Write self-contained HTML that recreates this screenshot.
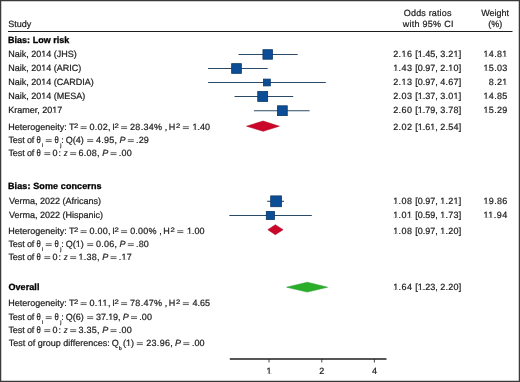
<!DOCTYPE html>
<html><head><meta charset="utf-8"><style>
html,body{margin:0;padding:0;background:#fff;}
body{width:520px;height:382px;overflow:hidden;}
svg{display:block;font-family:"Liberation Sans", sans-serif;will-change:transform;text-rendering:geometricPrecision;}
text{stroke:#1e1e1e;stroke-width:0.22px;}
</style></head><body>
<svg width="520" height="382" viewBox="0 0 520 382">
<rect x="0" y="0" width="520" height="382" fill="#fff"/>
<line x1="238.5" y1="54.45" x2="297.7" y2="54.45" stroke="#2b4a68" stroke-width="1.1"/>
<rect x="262.95" y="49.70" width="9.50" height="9.50" fill="#0b4e97" stroke="#0a3766" stroke-width="0.8"/>
<line x1="208" y1="68.5" x2="267.7" y2="68.5" stroke="#2b4a68" stroke-width="1.1"/>
<rect x="231.65" y="63.65" width="9.70" height="9.70" fill="#0b4e97" stroke="#0a3766" stroke-width="0.8"/>
<line x1="208.1" y1="82.5" x2="325.8" y2="82.5" stroke="#2b4a68" stroke-width="1.1"/>
<rect x="263.50" y="79.10" width="6.80" height="6.80" fill="#0b4e97" stroke="#0a3766" stroke-width="0.8"/>
<line x1="234.5" y1="96.45" x2="293.2" y2="96.45" stroke="#2b4a68" stroke-width="1.1"/>
<rect x="257.75" y="91.50" width="9.90" height="9.90" fill="#0b4e97" stroke="#0a3766" stroke-width="0.8"/>
<line x1="253.9" y1="110.7" x2="309.6" y2="110.7" stroke="#2b4a68" stroke-width="1.1"/>
<rect x="277.45" y="105.80" width="9.80" height="9.80" fill="#0b4e97" stroke="#0a3766" stroke-width="0.8"/>
<line x1="267.2" y1="201.3" x2="284" y2="201.3" stroke="#2b4a68" stroke-width="1.1"/>
<rect x="270.70" y="195.90" width="10.80" height="10.80" fill="#0b4e97" stroke="#0a3766" stroke-width="0.8"/>
<line x1="229.3" y1="215.5" x2="311.8" y2="215.5" stroke="#2b4a68" stroke-width="1.1"/>
<rect x="266.30" y="211.40" width="8.20" height="8.20" fill="#0b4e97" stroke="#0a3766" stroke-width="0.8"/>
<polygon points="246.5,126.2 263.1,121 279.4,126.2 263.1,131.3" fill="#cc0629" stroke="#a8061f" stroke-width="0.5"/>
<polygon points="267.8,229.7 275.3,224.7 283.1,229.7 275.3,234.8" fill="#cc0629" stroke="#a8061f" stroke-width="0.5"/>
<polygon points="286.6,287.2 307.3,282.2 327.6,287.2 307.3,292.1" fill="#2aae2a" stroke="#22992a" stroke-width="0.5"/>
<line x1="229.8" y1="359" x2="386.5" y2="359" stroke="#1e1e1e" stroke-width="1.5"/>
<line x1="269" y1="359" x2="269" y2="362.5" stroke="#1e1e1e" stroke-width="0.8"/>
<line x1="321.8" y1="359" x2="321.8" y2="362.5" stroke="#1e1e1e" stroke-width="0.8"/>
<line x1="374.4" y1="359" x2="374.4" y2="362.5" stroke="#1e1e1e" stroke-width="0.8"/>
<text x="8.19" y="27" font-size="9" fill="#1e1e1e">Study</text>
<text x="403.87" y="16" font-size="9" fill="#1e1e1e" textLength="47.55" lengthAdjust="spacing">Odds ratios</text>
<text x="402.71" y="27" font-size="9" fill="#1e1e1e" textLength="50.72" lengthAdjust="spacing">with 95% CI</text>
<text x="495.2" y="16" font-size="9" font-weight="normal" text-anchor="middle" fill="#1e1e1e">Weight</text>
<text x="495.2" y="27" font-size="9" font-weight="normal" text-anchor="middle" fill="#1e1e1e">(%)</text>
<line x1="8" y1="31.5" x2="512.5" y2="31.5" stroke="#1e1e1e" stroke-width="1.1"/>
<text x="8.00" y="43" font-size="9" fill="#000" font-weight="bold" style="stroke:#000;stroke-width:0.3px" textLength="61.39" lengthAdjust="spacing">Bias: Low risk</text>
<text x="8.26" y="57" font-size="9" fill="#1e1e1e">Naik, 2014 (JHS)</text>
<text x="393.15" y="57" font-size="9" fill="#1e1e1e" textLength="18.85" lengthAdjust="spacing">2.16</text>
<text x="415.36" y="57" font-size="9" fill="#1e1e1e" textLength="22.34" lengthAdjust="spacing">[1.45,</text>
<text x="440.16" y="57" font-size="9" fill="#1e1e1e" textLength="21.14" lengthAdjust="spacing">3.21]</text>
<text x="483.48" y="57" font-size="9" fill="#1e1e1e" textLength="23.87" lengthAdjust="spacing">14.81</text>
<text x="8.26" y="71" font-size="9" fill="#1e1e1e">Naik, 2014 (ARIC)</text>
<text x="393.15" y="71" font-size="9" fill="#1e1e1e" textLength="18.85" lengthAdjust="spacing">1.43</text>
<text x="415.36" y="71" font-size="9" fill="#1e1e1e" textLength="22.34" lengthAdjust="spacing">[0.97,</text>
<text x="440.16" y="71" font-size="9" fill="#1e1e1e" textLength="21.14" lengthAdjust="spacing">2.10]</text>
<text x="483.48" y="71" font-size="9" fill="#1e1e1e" textLength="23.87" lengthAdjust="spacing">15.03</text>
<text x="8.26" y="85" font-size="9" fill="#1e1e1e">Naik, 2014 (CARDIA)</text>
<text x="393.15" y="85" font-size="9" fill="#1e1e1e" textLength="18.85" lengthAdjust="spacing">2.13</text>
<text x="415.36" y="85" font-size="9" fill="#1e1e1e" textLength="22.34" lengthAdjust="spacing">[0.97,</text>
<text x="440.16" y="85" font-size="9" fill="#1e1e1e" textLength="21.14" lengthAdjust="spacing">4.67]</text>
<text x="488.78" y="85" font-size="9" fill="#1e1e1e" textLength="18.57" lengthAdjust="spacing">8.21</text>
<text x="8.26" y="99" font-size="9" fill="#1e1e1e">Naik, 2014 (MESA)</text>
<text x="393.15" y="99" font-size="9" fill="#1e1e1e" textLength="18.85" lengthAdjust="spacing">2.03</text>
<text x="415.36" y="99" font-size="9" fill="#1e1e1e" textLength="22.34" lengthAdjust="spacing">[1.37,</text>
<text x="440.16" y="99" font-size="9" fill="#1e1e1e" textLength="21.14" lengthAdjust="spacing">3.01]</text>
<text x="483.48" y="99" font-size="9" fill="#1e1e1e" textLength="23.87" lengthAdjust="spacing">14.85</text>
<text x="8.26" y="113" font-size="9" fill="#1e1e1e">Kramer, 2017</text>
<text x="393.15" y="113" font-size="9" fill="#1e1e1e" textLength="18.85" lengthAdjust="spacing">2.60</text>
<text x="415.36" y="113" font-size="9" fill="#1e1e1e" textLength="22.34" lengthAdjust="spacing">[1.79,</text>
<text x="440.16" y="113" font-size="9" fill="#1e1e1e" textLength="21.14" lengthAdjust="spacing">3.78]</text>
<text x="483.48" y="113" font-size="9" fill="#1e1e1e" textLength="23.87" lengthAdjust="spacing">15.29</text>
<text x="8.96" y="204" font-size="9" fill="#1e1e1e">Verma, 2022 (Africans)</text>
<text x="393.15" y="204" font-size="9" fill="#1e1e1e" textLength="18.85" lengthAdjust="spacing">1.08</text>
<text x="415.36" y="204" font-size="9" fill="#1e1e1e" textLength="22.34" lengthAdjust="spacing">[0.97,</text>
<text x="440.16" y="204" font-size="9" fill="#1e1e1e" textLength="21.14" lengthAdjust="spacing">1.21]</text>
<text x="483.48" y="204" font-size="9" fill="#1e1e1e" textLength="23.87" lengthAdjust="spacing">19.86</text>
<text x="8.96" y="218" font-size="9" fill="#1e1e1e">Verma, 2022 (Hispanic)</text>
<text x="393.15" y="218" font-size="9" fill="#1e1e1e" textLength="18.85" lengthAdjust="spacing">1.01</text>
<text x="415.36" y="218" font-size="9" fill="#1e1e1e" textLength="22.34" lengthAdjust="spacing">[0.59,</text>
<text x="440.16" y="218" font-size="9" fill="#1e1e1e" textLength="21.14" lengthAdjust="spacing">1.73]</text>
<text x="483.48" y="218" font-size="9" fill="#1e1e1e" textLength="23.87" lengthAdjust="spacing">11.94</text>
<text x="8.26" y="130" font-size="9" fill="#1e1e1e">Heterogeneity:</text>
<text x="69.00" y="130" font-size="9" fill="#1e1e1e">T</text>
<text transform="translate(74.11,128.10) scale(1.2,1)" x="0" y="0" font-size="6.5" fill="#1e1e1e">2</text>
<line x1="80.60" y1="126.75" x2="86.60" y2="126.75" stroke="#1e1e1e" stroke-width="0.7"/>
<line x1="80.60" y1="128.55" x2="86.60" y2="128.55" stroke="#1e1e1e" stroke-width="0.7"/>
<text x="89.40" y="130" font-size="9" fill="#1e1e1e" textLength="21.02" lengthAdjust="spacing">0.02,</text>
<text x="112.17" y="130" font-size="9" fill="#1e1e1e">I</text>
<text transform="translate(114.61,128.10) scale(1.2,1)" x="0" y="0" font-size="6.5" fill="#1e1e1e">2</text>
<line x1="121.10" y1="126.75" x2="127.10" y2="126.75" stroke="#1e1e1e" stroke-width="0.7"/>
<line x1="121.10" y1="128.55" x2="127.10" y2="128.55" stroke="#1e1e1e" stroke-width="0.7"/>
<text x="130.05" y="130" font-size="9" fill="#1e1e1e" textLength="31.97" lengthAdjust="spacing">28.34%</text>
<text x="164.69" y="130" font-size="9" fill="#1e1e1e">,</text>
<text x="168.86" y="130" font-size="9" fill="#1e1e1e">H</text>
<text transform="translate(175.91,128.10) scale(1.2,1)" x="0" y="0" font-size="6.5" fill="#1e1e1e">2</text>
<line x1="182.85" y1="126.75" x2="188.85" y2="126.75" stroke="#1e1e1e" stroke-width="0.7"/>
<line x1="182.85" y1="128.55" x2="188.85" y2="128.55" stroke="#1e1e1e" stroke-width="0.7"/>
<text x="192.60" y="130" font-size="9" fill="#1e1e1e">1.40</text>
<text x="393.15" y="130" font-size="9" fill="#1e1e1e" textLength="18.85" lengthAdjust="spacing">2.02</text>
<text x="415.36" y="130" font-size="9" fill="#1e1e1e" textLength="22.34" lengthAdjust="spacing">[1.61,</text>
<text x="440.16" y="130" font-size="9" fill="#1e1e1e" textLength="21.14" lengthAdjust="spacing">2.54]</text>
<text x="8.45" y="143" font-size="9" fill="#1e1e1e" textLength="25.94" lengthAdjust="spacing">Test of</text>
<text transform="translate(36.50,143) scale(0.86,1.045)" x="0" y="0" font-size="9" fill="#1e1e1e">θ</text>
<text x="42.05" y="146.7" font-size="5.3" fill="#1e1e1e">i</text>
<line x1="45.70" y1="139.75" x2="51.70" y2="139.75" stroke="#1e1e1e" stroke-width="0.7"/>
<line x1="45.70" y1="141.55" x2="51.70" y2="141.55" stroke="#1e1e1e" stroke-width="0.7"/>
<text transform="translate(54.40,143) scale(0.86,1.045)" x="0" y="0" font-size="9" fill="#1e1e1e">θ</text>
<text x="60.13" y="146.7" font-size="5.3" fill="#1e1e1e">j</text>
<text x="61.28" y="143" font-size="9" fill="#1e1e1e">:</text>
<text x="65.87" y="143" font-size="9" fill="#1e1e1e">Q(4)</text>
<line x1="87.20" y1="139.75" x2="93.20" y2="139.75" stroke="#1e1e1e" stroke-width="0.7"/>
<line x1="87.20" y1="141.55" x2="93.20" y2="141.55" stroke="#1e1e1e" stroke-width="0.7"/>
<text x="96.09" y="143" font-size="9" fill="#1e1e1e" textLength="21.02" lengthAdjust="spacing">4.95,</text>
<text x="119.52" y="143" font-size="9" fill="#1e1e1e" font-style="italic">P</text>
<line x1="127.80" y1="139.75" x2="133.80" y2="139.75" stroke="#1e1e1e" stroke-width="0.7"/>
<line x1="127.80" y1="141.55" x2="133.80" y2="141.55" stroke="#1e1e1e" stroke-width="0.7"/>
<text x="135.98" y="143" font-size="9" fill="#1e1e1e" textLength="12.89" lengthAdjust="spacing">.29</text>
<text x="8.45" y="156" font-size="9" fill="#1e1e1e" textLength="25.94" lengthAdjust="spacing">Test of</text>
<text transform="translate(36.60,156) scale(0.86,1.045)" x="0" y="0" font-size="9" fill="#1e1e1e">θ</text>
<line x1="44.30" y1="152.75" x2="50.30" y2="152.75" stroke="#1e1e1e" stroke-width="0.7"/>
<line x1="44.30" y1="154.55" x2="50.30" y2="154.55" stroke="#1e1e1e" stroke-width="0.7"/>
<text x="52.40" y="156" font-size="9" fill="#1e1e1e">0</text>
<text x="58.48" y="156" font-size="9" fill="#1e1e1e">:</text>
<text transform="translate(63.75,156) skewX(-8) scale(0.85,1)" x="-0.36" y="0" font-size="9" fill="#1e1e1e">z</text>
<line x1="70.20" y1="152.75" x2="76.20" y2="152.75" stroke="#1e1e1e" stroke-width="0.7"/>
<line x1="70.20" y1="154.55" x2="76.20" y2="154.55" stroke="#1e1e1e" stroke-width="0.7"/>
<text x="78.44" y="156" font-size="9" fill="#1e1e1e" textLength="21.02" lengthAdjust="spacing">6.08,</text>
<text x="102.22" y="156" font-size="9" fill="#1e1e1e" font-style="italic">P</text>
<line x1="110.50" y1="152.75" x2="116.50" y2="152.75" stroke="#1e1e1e" stroke-width="0.7"/>
<line x1="110.50" y1="154.55" x2="116.50" y2="154.55" stroke="#1e1e1e" stroke-width="0.7"/>
<text x="118.78" y="156" font-size="9" fill="#1e1e1e" textLength="12.89" lengthAdjust="spacing">.00</text>
<text x="8.00" y="189" font-size="9" fill="#000" font-weight="bold" style="stroke:#000;stroke-width:0.3px" textLength="93.57" lengthAdjust="spacing">Bias: Some concerns</text>
<text x="8.26" y="234" font-size="9" fill="#1e1e1e">Heterogeneity:</text>
<text x="69.00" y="234" font-size="9" fill="#1e1e1e">T</text>
<text transform="translate(74.11,232.10) scale(1.2,1)" x="0" y="0" font-size="6.5" fill="#1e1e1e">2</text>
<line x1="80.60" y1="230.75" x2="86.60" y2="230.75" stroke="#1e1e1e" stroke-width="0.7"/>
<line x1="80.60" y1="232.55" x2="86.60" y2="232.55" stroke="#1e1e1e" stroke-width="0.7"/>
<text x="89.40" y="234" font-size="9" fill="#1e1e1e" textLength="21.02" lengthAdjust="spacing">0.00,</text>
<text x="112.17" y="234" font-size="9" fill="#1e1e1e">I</text>
<text transform="translate(114.61,232.10) scale(1.2,1)" x="0" y="0" font-size="6.5" fill="#1e1e1e">2</text>
<line x1="121.10" y1="230.75" x2="127.10" y2="230.75" stroke="#1e1e1e" stroke-width="0.7"/>
<line x1="121.10" y1="232.55" x2="127.10" y2="232.55" stroke="#1e1e1e" stroke-width="0.7"/>
<text x="130.15" y="234" font-size="9" fill="#1e1e1e" textLength="26.37" lengthAdjust="spacing">0.00%</text>
<text x="159.19" y="234" font-size="9" fill="#1e1e1e">,</text>
<text x="163.36" y="234" font-size="9" fill="#1e1e1e">H</text>
<text transform="translate(170.41,232.10) scale(1.2,1)" x="0" y="0" font-size="6.5" fill="#1e1e1e">2</text>
<line x1="177.35" y1="230.75" x2="183.35" y2="230.75" stroke="#1e1e1e" stroke-width="0.7"/>
<line x1="177.35" y1="232.55" x2="183.35" y2="232.55" stroke="#1e1e1e" stroke-width="0.7"/>
<text x="187.10" y="234" font-size="9" fill="#1e1e1e">1.00</text>
<text x="393.15" y="234" font-size="9" fill="#1e1e1e" textLength="18.85" lengthAdjust="spacing">1.08</text>
<text x="415.36" y="234" font-size="9" fill="#1e1e1e" textLength="22.34" lengthAdjust="spacing">[0.97,</text>
<text x="440.16" y="234" font-size="9" fill="#1e1e1e" textLength="21.14" lengthAdjust="spacing">1.20]</text>
<text x="8.45" y="247" font-size="9" fill="#1e1e1e" textLength="25.94" lengthAdjust="spacing">Test of</text>
<text transform="translate(36.50,247) scale(0.86,1.045)" x="0" y="0" font-size="9" fill="#1e1e1e">θ</text>
<text x="42.05" y="250.7" font-size="5.3" fill="#1e1e1e">i</text>
<line x1="45.70" y1="243.75" x2="51.70" y2="243.75" stroke="#1e1e1e" stroke-width="0.7"/>
<line x1="45.70" y1="245.55" x2="51.70" y2="245.55" stroke="#1e1e1e" stroke-width="0.7"/>
<text transform="translate(54.40,247) scale(0.86,1.045)" x="0" y="0" font-size="9" fill="#1e1e1e">θ</text>
<text x="60.13" y="250.7" font-size="5.3" fill="#1e1e1e">j</text>
<text x="61.28" y="247" font-size="9" fill="#1e1e1e">:</text>
<text x="65.87" y="247" font-size="9" fill="#1e1e1e">Q(1)</text>
<line x1="87.20" y1="243.75" x2="93.20" y2="243.75" stroke="#1e1e1e" stroke-width="0.7"/>
<line x1="87.20" y1="245.55" x2="93.20" y2="245.55" stroke="#1e1e1e" stroke-width="0.7"/>
<text x="96.09" y="247" font-size="9" fill="#1e1e1e" textLength="21.02" lengthAdjust="spacing">0.06,</text>
<text x="119.52" y="247" font-size="9" fill="#1e1e1e" font-style="italic">P</text>
<line x1="127.80" y1="243.75" x2="133.80" y2="243.75" stroke="#1e1e1e" stroke-width="0.7"/>
<line x1="127.80" y1="245.55" x2="133.80" y2="245.55" stroke="#1e1e1e" stroke-width="0.7"/>
<text x="135.98" y="247" font-size="9" fill="#1e1e1e" textLength="12.89" lengthAdjust="spacing">.80</text>
<text x="8.45" y="260" font-size="9" fill="#1e1e1e" textLength="25.94" lengthAdjust="spacing">Test of</text>
<text transform="translate(36.60,260) scale(0.86,1.045)" x="0" y="0" font-size="9" fill="#1e1e1e">θ</text>
<line x1="44.30" y1="256.75" x2="50.30" y2="256.75" stroke="#1e1e1e" stroke-width="0.7"/>
<line x1="44.30" y1="258.55" x2="50.30" y2="258.55" stroke="#1e1e1e" stroke-width="0.7"/>
<text x="52.40" y="260" font-size="9" fill="#1e1e1e">0</text>
<text x="58.48" y="260" font-size="9" fill="#1e1e1e">:</text>
<text transform="translate(63.75,260) skewX(-8) scale(0.85,1)" x="-0.36" y="0" font-size="9" fill="#1e1e1e">z</text>
<line x1="70.20" y1="256.75" x2="76.20" y2="256.75" stroke="#1e1e1e" stroke-width="0.7"/>
<line x1="70.20" y1="258.55" x2="76.20" y2="258.55" stroke="#1e1e1e" stroke-width="0.7"/>
<text x="78.44" y="260" font-size="9" fill="#1e1e1e" textLength="21.02" lengthAdjust="spacing">1.38,</text>
<text x="102.22" y="260" font-size="9" fill="#1e1e1e" font-style="italic">P</text>
<line x1="110.50" y1="256.75" x2="116.50" y2="256.75" stroke="#1e1e1e" stroke-width="0.7"/>
<line x1="110.50" y1="258.55" x2="116.50" y2="258.55" stroke="#1e1e1e" stroke-width="0.7"/>
<text x="118.78" y="260" font-size="9" fill="#1e1e1e" textLength="12.89" lengthAdjust="spacing">.17</text>
<text x="8.43" y="290" font-size="9" fill="#000" font-weight="bold" style="stroke:#000;stroke-width:0.3px" textLength="31.01" lengthAdjust="spacing">Overall</text>
<text x="393.15" y="290" font-size="9" fill="#1e1e1e" textLength="18.85" lengthAdjust="spacing">1.64</text>
<text x="415.36" y="290" font-size="9" fill="#1e1e1e" textLength="22.34" lengthAdjust="spacing">[1.23,</text>
<text x="440.16" y="290" font-size="9" fill="#1e1e1e" textLength="21.14" lengthAdjust="spacing">2.20]</text>
<text x="8.26" y="306" font-size="9" fill="#1e1e1e">Heterogeneity:</text>
<text x="69.00" y="306" font-size="9" fill="#1e1e1e">T</text>
<text transform="translate(74.11,304.10) scale(1.2,1)" x="0" y="0" font-size="6.5" fill="#1e1e1e">2</text>
<line x1="80.60" y1="302.75" x2="86.60" y2="302.75" stroke="#1e1e1e" stroke-width="0.7"/>
<line x1="80.60" y1="304.55" x2="86.60" y2="304.55" stroke="#1e1e1e" stroke-width="0.7"/>
<text x="89.40" y="306" font-size="9" fill="#1e1e1e" textLength="21.02" lengthAdjust="spacing">0.11,</text>
<text x="112.17" y="306" font-size="9" fill="#1e1e1e">I</text>
<text transform="translate(114.61,304.10) scale(1.2,1)" x="0" y="0" font-size="6.5" fill="#1e1e1e">2</text>
<line x1="121.10" y1="302.75" x2="127.10" y2="302.75" stroke="#1e1e1e" stroke-width="0.7"/>
<line x1="121.10" y1="304.55" x2="127.10" y2="304.55" stroke="#1e1e1e" stroke-width="0.7"/>
<text x="130.04" y="306" font-size="9" fill="#1e1e1e" textLength="31.98" lengthAdjust="spacing">78.47%</text>
<text x="164.69" y="306" font-size="9" fill="#1e1e1e">,</text>
<text x="168.86" y="306" font-size="9" fill="#1e1e1e">H</text>
<text transform="translate(175.91,304.10) scale(1.2,1)" x="0" y="0" font-size="6.5" fill="#1e1e1e">2</text>
<line x1="182.85" y1="302.75" x2="188.85" y2="302.75" stroke="#1e1e1e" stroke-width="0.7"/>
<line x1="182.85" y1="304.55" x2="188.85" y2="304.55" stroke="#1e1e1e" stroke-width="0.7"/>
<text x="192.60" y="306" font-size="9" fill="#1e1e1e">4.65</text>
<text x="8.45" y="320" font-size="9" fill="#1e1e1e" textLength="25.94" lengthAdjust="spacing">Test of</text>
<text transform="translate(36.50,320) scale(0.86,1.045)" x="0" y="0" font-size="9" fill="#1e1e1e">θ</text>
<text x="42.05" y="323.7" font-size="5.3" fill="#1e1e1e">i</text>
<line x1="45.70" y1="316.75" x2="51.70" y2="316.75" stroke="#1e1e1e" stroke-width="0.7"/>
<line x1="45.70" y1="318.55" x2="51.70" y2="318.55" stroke="#1e1e1e" stroke-width="0.7"/>
<text transform="translate(54.40,320) scale(0.86,1.045)" x="0" y="0" font-size="9" fill="#1e1e1e">θ</text>
<text x="60.13" y="323.7" font-size="5.3" fill="#1e1e1e">j</text>
<text x="61.28" y="320" font-size="9" fill="#1e1e1e">:</text>
<text x="65.87" y="320" font-size="9" fill="#1e1e1e">Q(6)</text>
<line x1="87.20" y1="316.75" x2="93.20" y2="316.75" stroke="#1e1e1e" stroke-width="0.7"/>
<line x1="87.20" y1="318.55" x2="93.20" y2="318.55" stroke="#1e1e1e" stroke-width="0.7"/>
<text x="96.09" y="320" font-size="9" fill="#1e1e1e" textLength="24.40" lengthAdjust="spacing">37.19,</text>
<text x="122.72" y="320" font-size="9" fill="#1e1e1e" font-style="italic">P</text>
<line x1="131.00" y1="316.75" x2="137.00" y2="316.75" stroke="#1e1e1e" stroke-width="0.7"/>
<line x1="131.00" y1="318.55" x2="137.00" y2="318.55" stroke="#1e1e1e" stroke-width="0.7"/>
<text x="139.18" y="320" font-size="9" fill="#1e1e1e" textLength="12.89" lengthAdjust="spacing">.00</text>
<text x="8.45" y="333" font-size="9" fill="#1e1e1e" textLength="25.94" lengthAdjust="spacing">Test of</text>
<text transform="translate(36.60,333) scale(0.86,1.045)" x="0" y="0" font-size="9" fill="#1e1e1e">θ</text>
<line x1="44.30" y1="329.75" x2="50.30" y2="329.75" stroke="#1e1e1e" stroke-width="0.7"/>
<line x1="44.30" y1="331.55" x2="50.30" y2="331.55" stroke="#1e1e1e" stroke-width="0.7"/>
<text x="52.40" y="333" font-size="9" fill="#1e1e1e">0</text>
<text x="58.48" y="333" font-size="9" fill="#1e1e1e">:</text>
<text transform="translate(63.75,333) skewX(-8) scale(0.85,1)" x="-0.36" y="0" font-size="9" fill="#1e1e1e">z</text>
<line x1="70.20" y1="329.75" x2="76.20" y2="329.75" stroke="#1e1e1e" stroke-width="0.7"/>
<line x1="70.20" y1="331.55" x2="76.20" y2="331.55" stroke="#1e1e1e" stroke-width="0.7"/>
<text x="78.44" y="333" font-size="9" fill="#1e1e1e" textLength="21.02" lengthAdjust="spacing">3.35,</text>
<text x="102.22" y="333" font-size="9" fill="#1e1e1e" font-style="italic">P</text>
<line x1="110.50" y1="329.75" x2="116.50" y2="329.75" stroke="#1e1e1e" stroke-width="0.7"/>
<line x1="110.50" y1="331.55" x2="116.50" y2="331.55" stroke="#1e1e1e" stroke-width="0.7"/>
<text x="118.78" y="333" font-size="9" fill="#1e1e1e" textLength="12.89" lengthAdjust="spacing">.00</text>
<text x="8.80" y="346" font-size="9" fill="#1e1e1e">Test of group differences:</text>
<text x="111.67" y="346" font-size="9" fill="#1e1e1e">Q</text>
<text x="118.66" y="349.7" font-size="5.3" fill="#1e1e1e">b</text>
<text x="123.04" y="346" font-size="9" fill="#1e1e1e">(1)</text>
<line x1="136.80" y1="342.75" x2="142.80" y2="342.75" stroke="#1e1e1e" stroke-width="0.7"/>
<line x1="136.80" y1="344.55" x2="142.80" y2="344.55" stroke="#1e1e1e" stroke-width="0.7"/>
<text x="146.25" y="346" font-size="9" fill="#1e1e1e" textLength="26.56" lengthAdjust="spacing">23.96,</text>
<text x="175.02" y="346" font-size="9" fill="#1e1e1e" font-style="italic">P</text>
<line x1="183.30" y1="342.75" x2="189.30" y2="342.75" stroke="#1e1e1e" stroke-width="0.7"/>
<line x1="183.30" y1="344.55" x2="189.30" y2="344.55" stroke="#1e1e1e" stroke-width="0.7"/>
<text x="191.98" y="346" font-size="9" fill="#1e1e1e">.00</text>
<text x="269" y="374" font-size="9" font-weight="normal" text-anchor="middle" fill="#1e1e1e">1</text>
<text x="321.8" y="374" font-size="9" font-weight="normal" text-anchor="middle" fill="#1e1e1e">2</text>
<text x="374.4" y="374" font-size="9" font-weight="normal" text-anchor="middle" fill="#1e1e1e">4</text>
<rect x="41.76" y="56.19" width="1.76" height="1.01" fill="#fff"/>
<rect x="44.35" y="56.19" width="1.69" height="1.01" fill="#fff"/>
<rect x="402.03" y="56.19" width="1.76" height="1.01" fill="#fff"/>
<rect x="404.62" y="56.19" width="1.69" height="1.01" fill="#fff"/>
<rect x="418.31" y="56.19" width="1.76" height="1.01" fill="#fff"/>
<rect x="420.90" y="56.19" width="1.69" height="1.01" fill="#fff"/>
<rect x="453.99" y="56.19" width="1.76" height="1.01" fill="#fff"/>
<rect x="456.58" y="56.19" width="1.69" height="1.01" fill="#fff"/>
<rect x="483.97" y="56.19" width="1.76" height="1.01" fill="#fff"/>
<rect x="486.56" y="56.19" width="1.69" height="1.01" fill="#fff"/>
<rect x="502.82" y="56.19" width="1.76" height="1.01" fill="#fff"/>
<rect x="505.41" y="56.19" width="1.69" height="1.01" fill="#fff"/>
<rect x="41.76" y="70.19" width="1.76" height="1.01" fill="#fff"/>
<rect x="44.35" y="70.19" width="1.69" height="1.01" fill="#fff"/>
<rect x="393.64" y="70.19" width="1.76" height="1.01" fill="#fff"/>
<rect x="396.23" y="70.19" width="1.69" height="1.01" fill="#fff"/>
<rect x="448.71" y="70.19" width="1.76" height="1.01" fill="#fff"/>
<rect x="451.30" y="70.19" width="1.69" height="1.01" fill="#fff"/>
<rect x="483.97" y="70.19" width="1.76" height="1.01" fill="#fff"/>
<rect x="486.56" y="70.19" width="1.69" height="1.01" fill="#fff"/>
<rect x="41.76" y="84.19" width="1.76" height="1.01" fill="#fff"/>
<rect x="44.35" y="84.19" width="1.69" height="1.01" fill="#fff"/>
<rect x="402.03" y="84.19" width="1.76" height="1.01" fill="#fff"/>
<rect x="404.62" y="84.19" width="1.69" height="1.01" fill="#fff"/>
<rect x="502.82" y="84.19" width="1.76" height="1.01" fill="#fff"/>
<rect x="505.41" y="84.19" width="1.69" height="1.01" fill="#fff"/>
<rect x="41.76" y="98.19" width="1.76" height="1.01" fill="#fff"/>
<rect x="44.35" y="98.19" width="1.69" height="1.01" fill="#fff"/>
<rect x="418.31" y="98.19" width="1.76" height="1.01" fill="#fff"/>
<rect x="420.90" y="98.19" width="1.69" height="1.01" fill="#fff"/>
<rect x="453.99" y="98.19" width="1.76" height="1.01" fill="#fff"/>
<rect x="456.58" y="98.19" width="1.69" height="1.01" fill="#fff"/>
<rect x="483.97" y="98.19" width="1.76" height="1.01" fill="#fff"/>
<rect x="486.56" y="98.19" width="1.69" height="1.01" fill="#fff"/>
<rect x="52.76" y="112.19" width="1.76" height="1.01" fill="#fff"/>
<rect x="55.35" y="112.19" width="1.69" height="1.01" fill="#fff"/>
<rect x="418.31" y="112.19" width="1.76" height="1.01" fill="#fff"/>
<rect x="420.90" y="112.19" width="1.69" height="1.01" fill="#fff"/>
<rect x="483.97" y="112.19" width="1.76" height="1.01" fill="#fff"/>
<rect x="486.56" y="112.19" width="1.69" height="1.01" fill="#fff"/>
<rect x="393.64" y="203.19" width="1.76" height="1.01" fill="#fff"/>
<rect x="396.23" y="203.19" width="1.69" height="1.01" fill="#fff"/>
<rect x="440.65" y="203.19" width="1.76" height="1.01" fill="#fff"/>
<rect x="443.24" y="203.19" width="1.69" height="1.01" fill="#fff"/>
<rect x="453.99" y="203.19" width="1.76" height="1.01" fill="#fff"/>
<rect x="456.58" y="203.19" width="1.69" height="1.01" fill="#fff"/>
<rect x="483.97" y="203.19" width="1.76" height="1.01" fill="#fff"/>
<rect x="486.56" y="203.19" width="1.69" height="1.01" fill="#fff"/>
<rect x="393.64" y="217.19" width="1.76" height="1.01" fill="#fff"/>
<rect x="396.23" y="217.19" width="1.69" height="1.01" fill="#fff"/>
<rect x="407.47" y="217.19" width="1.76" height="1.01" fill="#fff"/>
<rect x="410.06" y="217.19" width="1.69" height="1.01" fill="#fff"/>
<rect x="440.65" y="217.19" width="1.76" height="1.01" fill="#fff"/>
<rect x="443.24" y="217.19" width="1.69" height="1.01" fill="#fff"/>
<rect x="483.97" y="217.19" width="1.76" height="1.01" fill="#fff"/>
<rect x="486.56" y="217.19" width="1.69" height="1.01" fill="#fff"/>
<rect x="488.80" y="217.19" width="1.76" height="1.01" fill="#fff"/>
<rect x="491.39" y="217.19" width="1.69" height="1.01" fill="#fff"/>
<rect x="193.09" y="129.19" width="1.76" height="1.01" fill="#fff"/>
<rect x="195.68" y="129.19" width="1.69" height="1.01" fill="#fff"/>
<rect x="418.31" y="129.19" width="1.76" height="1.01" fill="#fff"/>
<rect x="420.90" y="129.19" width="1.69" height="1.01" fill="#fff"/>
<rect x="430.71" y="129.19" width="1.76" height="1.01" fill="#fff"/>
<rect x="433.30" y="129.19" width="1.69" height="1.01" fill="#fff"/>
<rect x="187.59" y="233.19" width="1.76" height="1.01" fill="#fff"/>
<rect x="190.18" y="233.19" width="1.69" height="1.01" fill="#fff"/>
<rect x="393.64" y="233.19" width="1.76" height="1.01" fill="#fff"/>
<rect x="396.23" y="233.19" width="1.69" height="1.01" fill="#fff"/>
<rect x="440.65" y="233.19" width="1.76" height="1.01" fill="#fff"/>
<rect x="443.24" y="233.19" width="1.69" height="1.01" fill="#fff"/>
<rect x="76.34" y="246.19" width="1.76" height="1.01" fill="#fff"/>
<rect x="78.93" y="246.19" width="1.69" height="1.01" fill="#fff"/>
<rect x="78.93" y="259.19" width="1.76" height="1.01" fill="#fff"/>
<rect x="81.52" y="259.19" width="1.69" height="1.01" fill="#fff"/>
<rect x="121.95" y="259.19" width="1.76" height="1.01" fill="#fff"/>
<rect x="124.55" y="259.19" width="1.69" height="1.01" fill="#fff"/>
<rect x="393.64" y="289.19" width="1.76" height="1.01" fill="#fff"/>
<rect x="396.23" y="289.19" width="1.69" height="1.01" fill="#fff"/>
<rect x="418.31" y="289.19" width="1.76" height="1.01" fill="#fff"/>
<rect x="420.90" y="289.19" width="1.69" height="1.01" fill="#fff"/>
<rect x="98.22" y="305.19" width="1.76" height="1.01" fill="#fff"/>
<rect x="100.82" y="305.19" width="1.69" height="1.01" fill="#fff"/>
<rect x="102.97" y="305.19" width="1.76" height="1.01" fill="#fff"/>
<rect x="105.56" y="305.19" width="1.69" height="1.01" fill="#fff"/>
<rect x="108.71" y="319.19" width="1.76" height="1.01" fill="#fff"/>
<rect x="111.30" y="319.19" width="1.69" height="1.01" fill="#fff"/>
<rect x="126.51" y="345.19" width="1.76" height="1.01" fill="#fff"/>
<rect x="129.10" y="345.19" width="1.69" height="1.01" fill="#fff"/>
<rect x="266.98" y="373.19" width="1.76" height="1.01" fill="#fff"/>
<rect x="269.57" y="373.19" width="1.69" height="1.01" fill="#fff"/>
<rect x="0.6" y="0.6" width="518.8" height="380.8" fill="none" stroke="#3a3a3a" stroke-width="1.3"/>
</svg>
</body></html>
